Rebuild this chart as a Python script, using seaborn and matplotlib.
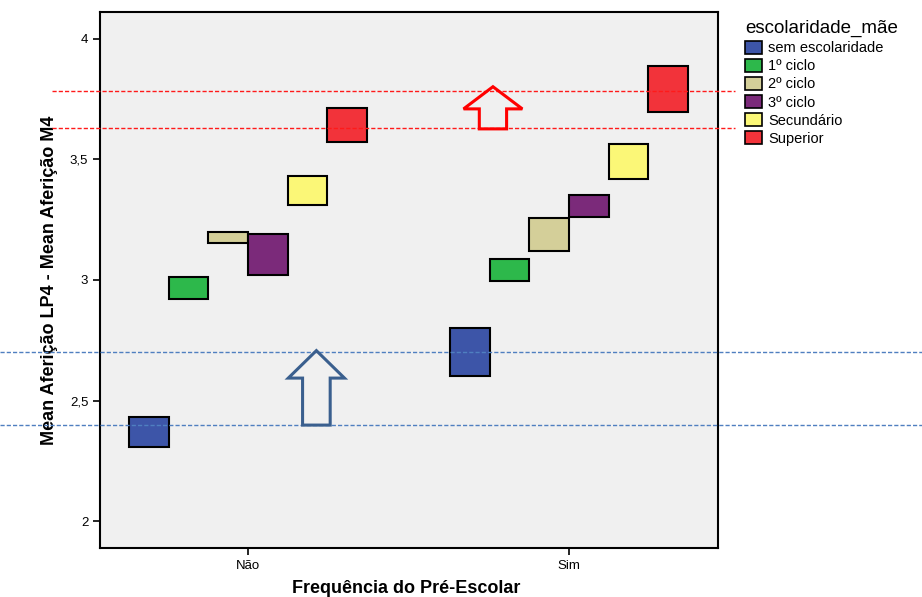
import matplotlib.pyplot as plt
import matplotlib.patches as mpatches
import pandas as pd
import seaborn as sns

# DADOS --------------------------------
grupos = ["Não", "Sim"]
niveis = ["sem escolaridade", "1º ciclo", "2º ciclo", "3º ciclo", "Secundário", "Superior"]
cores = ["#3D55A8", "#2DB84B", "#D4CF99", "#7B2A7A", "#FBF777", "#F2333A"]

# limites inferior / superior de cada caixa
min_nao = [2.307, 2.921, 3.153, 3.019, 3.313, 3.571]
max_nao = [2.433, 3.014, 3.200, 3.192, 3.430, 3.714]
min_sim = [2.600, 2.995, 3.122, 3.261, 3.418, 3.696]
max_sim = [2.800, 3.086, 3.259, 3.351, 3.564, 3.889]

linhas_vermelhas = [3.786, 3.632]
linhas_azuis = [2.701, 2.398]

y_ticks = [2, 2.5, 3, 3.5, 4]
y_labels = ["2", "2,5", "3", "3,5", "4"]

df = pd.DataFrame({
    "pre": [grupos[0]] * len(niveis) + [grupos[1]] * len(niveis),
    "esc": niveis * 2,
    "lo": min_nao + min_sim,
    "hi": max_nao + max_sim,
})
df["amp"] = df["hi"] - df["lo"]

# FIGURA --------------------------------
sns.set_style("white")
plt.rcParams["font.family"] = ["Liberation Sans", "DejaVu Sans"]
plt.rcParams.update({"text.color": "black", "axes.labelcolor": "black",
                     "xtick.color": "black", "ytick.color": "black"})

fig = plt.figure(figsize=(9.22, 5.97), dpi=100)
ax = fig.add_axes([100 / 922, 1 - 548 / 597, 618 / 922, 536 / 597])
ax.set_facecolor("#F0F0F0")

sns.barplot(
    data=df, x="pre", y="amp", hue="esc", order=grupos, hue_order=niveis,
    palette=cores, width=0.74, errorbar=None, saturation=1,
    edgecolor="black", linewidth=1.5, legend=False, ax=ax,
)

# caixas flutuantes: deslocar cada barra para o seu limite inferior
lo = df.set_index(["esc", "pre"])["lo"]
for cont, nivel in zip(ax.containers, niveis):
    for barra, g in zip(cont, grupos):
        barra.set_y(lo[(nivel, g)])

ax.set_xlim(-0.461, 1.464)
ax.set_ylim(1.888, 4.112)
ax.set_yticks(y_ticks)
ax.set_yticklabels(y_labels)

# linhas de referência tracejadas
for y in linhas_vermelhas:
    ax.axhline(y, xmin=-0.078, xmax=1.027, color="#FF1A1A", ls=(0, (3, 1.5)),
               lw=1, clip_on=False, zorder=5)
for y in linhas_azuis:
    ax.axhline(y, xmin=-0.162, xmax=1.33, color="#4F7FC0", ls=(0, (3, 1.5)),
               lw=1, clip_on=False, zorder=5)

# setas
ax.add_patch(mpatches.FancyArrow(
    0.213, 2.398, 0, 0.309, width=0.086, head_width=0.175, head_length=0.114,
    length_includes_head=True, fill=False, ec="#3A5F8E", lw=2.2, zorder=6))
ax.add_patch(mpatches.FancyArrow(
    0.763, 3.627, 0, 0.175, width=0.085, head_width=0.183, head_length=0.092,
    length_includes_head=True, fill=False, ec="#FF0000", lw=2.2, zorder=6))

for s in ax.spines.values():
    s.set_color("black")
    s.set_linewidth(1.5)
ax.tick_params(axis="both", direction="out", length=5, width=1.2,
               color="black", labelsize=9.5, left=True, bottom=True)

ax.set_xlabel("Frequência do Pré-Escolar", fontsize=13, fontweight="bold")
ax.xaxis.set_label_coords(0.495, -0.06)
ax.set_ylabel("Mean Aferição LP4 - Mean Aferição M4", fontsize=13,
              fontweight="bold")
ax.yaxis.set_label_coords(-0.068, 0.5)

handles = [mpatches.Patch(facecolor=c, edgecolor="black", lw=1.2) for c in cores]
fig.legend(
    handles, niveis, title="escolaridade_mãe", loc="upper left",
    bbox_to_anchor=(745 / 922, 1 - 20 / 597), frameon=False, borderpad=0,
    borderaxespad=0, fontsize=10.5, title_fontsize=13.5, alignment="left",
    handlelength=1.15, handleheight=0.95, handletextpad=0.45, labelspacing=0.26,
)

fig.savefig("out.png", dpi=100)
